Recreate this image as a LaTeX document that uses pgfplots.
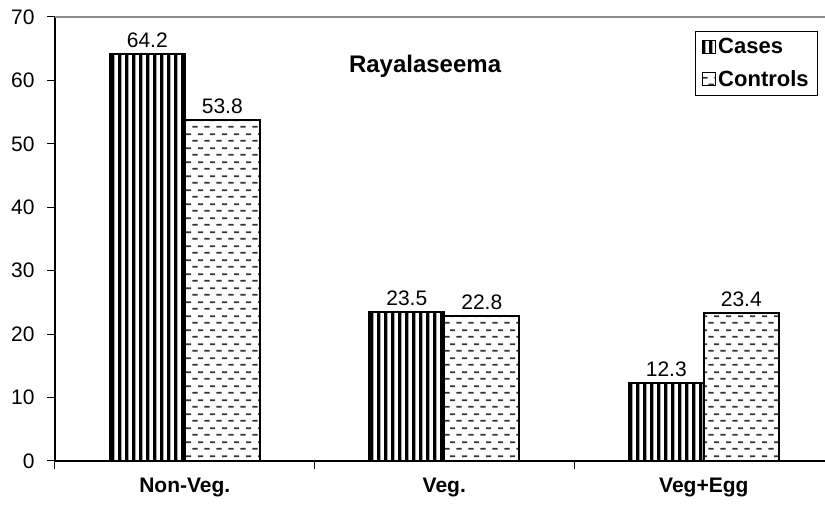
\documentclass[border=0pt]{standalone}
\usepackage{pgfplots}
\pgfplotsset{compat=1.18}
\usepackage{fontspec}
\setmainfont{Liberation Sans}
\usetikzlibrary{patterns}

% vertical black stripes (Cases)
\pgfdeclarepatternformonly{vstripe}{\pgfqpoint{0pt}{0pt}}{\pgfqpoint{6.5pt}{1pt}}{\pgfqpoint{6.5pt}{1pt}}{%
  \pgfpathrectangle{\pgfqpoint{0pt}{-0.5pt}}{\pgfqpoint{3.5pt}{2pt}}\pgfusepath{fill}}
% staggered horizontal dashes (Controls)
\pgfdeclarepatternformonly{hdash}{\pgfqpoint{0pt}{0pt}}{\pgfqpoint{12pt}{14pt}}{\pgfqpoint{12pt}{14pt}}{%
  \pgfsetlinewidth{1.8pt}%
  \pgfpathmoveto{\pgfqpoint{0.5pt}{3.5pt}}\pgfpathlineto{\pgfqpoint{6pt}{3.5pt}}%
  \pgfpathmoveto{\pgfqpoint{6.5pt}{10.5pt}}\pgfpathlineto{\pgfqpoint{12pt}{10.5pt}}%
  \pgfusepath{stroke}}

\begin{document}
\begin{tikzpicture}
\begin{axis}[
  width=770pt, height=444pt, scale only axis,
  xmin=-0.5, xmax=2.467,
  ymin=0, ymax=70,
  ytick={0,10,...,70},
  xtick={-0.5,0.5,1.5}, xticklabels={},
  extra x ticks={0,1,2},
  extra x tick labels={Non-Veg.,Veg.,Veg+Egg},
  extra x tick style={major tick length=0pt},
  axis x line*=bottom, axis y line*=left,
  axis line style={black, line width=1.2pt, -},
  tick align=outside,
  major tick length=8pt,
  tick style={black, line width=1pt},
  /pgf/number format/assume math mode=true,
  yticklabel style={font=\fontsize{21}{24}\selectfont, xshift=-9pt},
  xticklabel style={font=\bfseries\fontsize{21}{25}\selectfont, yshift=-14pt},
  ybar=0pt, bar width=75pt,
  nodes near coords,
  nodes near coords style={font=\fontsize{21}{24}\selectfont,
    /pgf/number format/fixed, /pgf/number format/precision=1,
    /pgf/number format/fixed zerofill, yshift=2pt},
  legend style={at={(0.991,0.968)}, anchor=north east, draw=black,
    line width=0.8pt, font=\bfseries\fontsize{22}{25}\selectfont,
    row sep=11pt, inner xsep=7pt, inner ysep=5pt,
    nodes={inner xsep=2pt}},
  legend cell align=left,
  legend image code/.code={\draw[#1, line width=1.2pt] (0pt,-6.5pt) rectangle (13pt,6.5pt);},
  clip=false,
]
\draw[black!45, line width=1.3pt] (rel axis cs:0,1) -- (rel axis cs:1,1);
\addplot[draw=black, line width=2pt, pattern=vstripe, pattern color=black]
  coordinates {(0,64.2) (1,23.5) (2,12.3)};
\addplot[draw=black, line width=2pt, pattern=hdash, pattern color=black!80]
  coordinates {(0,53.8) (1,22.8) (2,23.4)};
\legend{Cases,Controls}
\node[font=\bfseries\fontsize{24}{28}\selectfont, anchor=base] at (axis cs:0.926,61.3) {Rayalaseema};
\end{axis}
\pgfresetboundingbox
\useasboundingbox (-55pt,-47pt) rectangle (770pt,461pt);
\end{tikzpicture}
\end{document}
